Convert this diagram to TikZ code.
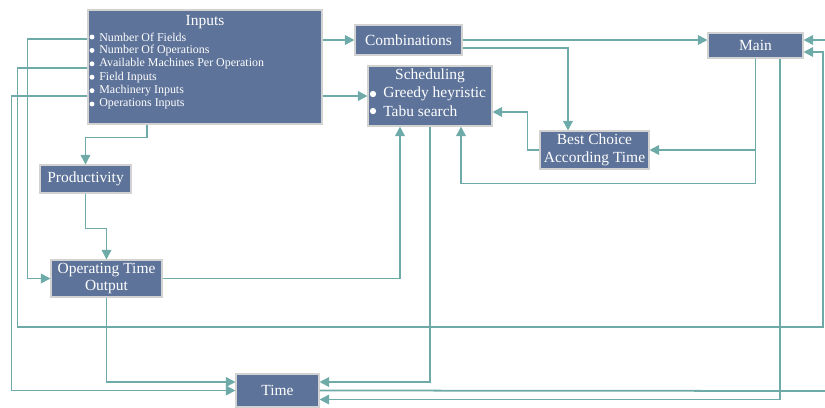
\documentclass[tikz,border=0pt]{standalone}
\usepackage{fontspec}
\setmainfont{Liberation Serif}
\usetikzlibrary{arrows.meta,positioning}
\definecolor{boxBlue}{HTML}{5D7399}
\definecolor{lineTeal}{HTML}{6EAAA8}

\begin{document}
\begin{tikzpicture}[x=0.02cm, y=-0.02cm,
  box/.style={draw=gray!35, fill=boxBlue, text=white, line width=0.6pt,
              font=\fontsize{8.8}{10.2}\selectfont, align=center, inner sep=0pt},
  item/.style={text=white, font=\fontsize{6.8}{8}\selectfont, anchor=west, inner sep=0pt},
  bigitem/.style={text=white, font=\fontsize{8.8}{10.2}\selectfont, anchor=west, inner sep=0pt},
  dot/.style={circle, fill=white, inner sep=0pt, minimum size=2.8pt},
  bigdot/.style={circle, fill=white, inner sep=0pt, minimum size=3.6pt},
  arr/.style={-{Triangle[length=5.5pt,width=5.5pt]}, lineTeal, line width=1pt},
  ln/.style={lineTeal, line width=1pt}
]
\useasboundingbox (0,0) rectangle (825,407);

% boxes
\node[box, minimum width=4.68cm, minimum height=2.28cm] (inputs) at (205,67) {};
\node[box, minimum width=2.14cm, minimum height=0.6cm]  (comb)   at (408.5,40) {Combinations};
\node[box, minimum width=1.9cm,  minimum height=0.5cm]  (main)   at (755.5,45.5) {Main};
\node[box, minimum width=2.48cm, minimum height=1.2cm]  (sched)  at (430,96) {};
\node[box, minimum width=2.18cm, minimum height=0.76cm] (best)   at (594.5,150) {Best Choice\\According Time};
\node[box, minimum width=1.82cm, minimum height=0.56cm] (prod)   at (85.5,179) {Productivity};
\node[box, minimum width=2.22cm, minimum height=0.74cm] (opt)    at (106.5,278.5) {Operating Time\\Output};
\node[box, minimum width=1.66cm, minimum height=0.66cm] (time)   at (277.5,390.5) {Time};

% box texts
\node[bigitem, anchor=center] (intitle) at (205,22) {Inputs};
\foreach \t [count=\i] in {Number Of Fields, Number Of Operations,
    Available Machines Per Operation, Field Inputs, Machinery Inputs, Operations Inputs} {
  \node[dot] (indot\i) at (92,{23.6+13.4*\i}) {};
  \node[item] (initem\i) at (99,{23.6+13.4*\i}) {\t};
}
\node[bigitem, anchor=center] (schtitle) at (430,76) {Scheduling};
\node[bigdot] (sdot1) at (373,94) {};
\node[bigitem] (sitem1) at (383,94) {Greedy heyristic};
\node[bigdot] (sdot2) at (373,111) {};
\node[bigitem] (sitem2) at (383,111) {Tabu search};

\coordinate (rloop) at (823,327);
\coordinate (rout)  at (840,391);

% connectors
\draw[arr] (inputs.east |- comb.west) -- (comb.west);
\draw[arr] (inputs.east |- sched.west) -- (sched.west);
\draw[arr] ([xshift=-1.16cm]inputs.south) -- ++(0,13) -| (prod.north);
\draw[arr] (prod.south) -- ++(0,35) -| (opt.north);
\draw[arr] (opt.east) -| ([xshift=-0.6cm]sched.south);
\draw[arr] (opt.south) |- ([yshift=0.17cm]time.west);
\draw[arr] (sched.south) |- ([yshift=0.17cm]time.east);
\draw[arr] (comb.east) -- (comb.east -| main.west);
\draw[arr] ([yshift=-0.16cm]comb.east) -| ([xshift=-0.53cm]best.north);
\draw[arr] (best.west) -- ++(-12,0) |- ([yshift=-0.32cm]sched.east);
\draw[arr] (main.south) |- (best.east);
\draw[arr] (main.south) -- ++(0,125) -| ([xshift=0.62cm]sched.south);
\draw[arr] ([xshift=0.49cm]main.south) |- ([yshift=-0.18cm]time.east);
\draw[arr] ([yshift=0.56cm]inputs.west) -- ++(-60,0) |- (opt.west);
\draw[arr] ([yshift=-0.02cm]inputs.west) -- ++(-70,0) |- (rloop) |- ([yshift=-0.13cm]main.east);
\draw[arr] ([yshift=-0.58cm]inputs.west) -- ++(-76,0) |- (time.west);
\draw[arr] (time.east) -- (rout) |- ([yshift=0.11cm]main.east);
\end{tikzpicture}
\end{document}
